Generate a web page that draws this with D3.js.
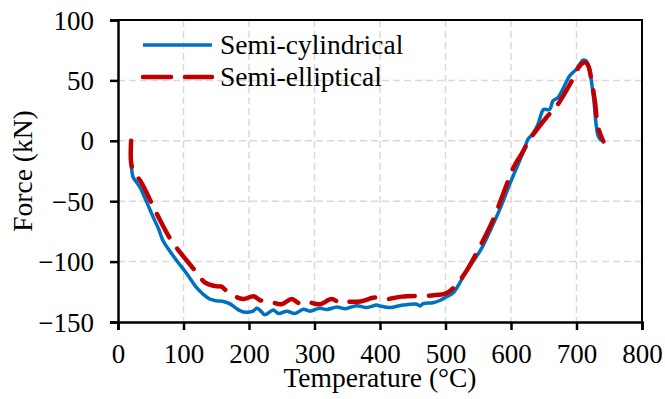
<!DOCTYPE html>
<html>
<head>
<meta charset="utf-8">
<script src="https://cdn.jsdelivr.net/npm/d3@7"></script>
<style>
body { margin: 0; background: #fff; }
text { font-family: "Liberation Serif", "Times New Roman", serif; fill: #000; }
</style>
</head>
<body>
<svg width="665" height="399"></svg>
<script>
// values
var seriesNames = ['Semi-cylindrical', 'Semi-elliptical'];
var xTicks = [0, 100, 200, 300, 400, 500, 600, 700, 800];
var yTicks = [-150, -100, -50, 0, 50, 100];

var cylTemp = [20, 23, 28, 34, 44, 54, 62, 69, 80, 90, 105, 120, 130, 140, 150, 161, 171, 180, 186, 196, 206, 212, 218, 224, 231, 237, 245, 258, 270, 283, 293, 308, 319, 334, 347, 364, 380, 395, 400, 415, 435, 456, 461, 466, 481, 492, 502, 512, 522, 532, 553, 568, 583, 598, 611, 621, 626, 632, 640, 647, 650, 659, 664, 672, 690, 700, 710, 715, 720, 726, 733, 738];
var cylForce = [-17, -30, -34, -39, -51, -63.5, -73, -83, -92, -99.5, -110, -121.5, -127, -131, -132.5, -133, -135, -138.5, -140.5, -142, -141, -138.6, -141, -144, -142, -140, -143, -141, -143, -139.5, -141, -138.6, -139.7, -137.5, -139, -136.5, -138, -136, -136.7, -138, -136, -135.3, -136.7, -134.8, -134, -132, -129, -125.7, -117.4, -107.7, -91, -74.6, -56.6, -36, -19.3, -6, 1.4, 5, 12, 23.5, 26, 26, 33, 36, 54, 59.4, 66.8, 66, 58, 36, 4, 0];

var ellTemp = [20, 20, 24, 34, 46, 57, 77, 90, 118, 133, 146, 152, 158, 163, 171, 191, 207, 217, 231, 250, 265, 278, 288, 308, 326, 339, 349, 370, 392, 410, 433, 479, 502, 517, 532, 553, 573, 588, 604, 616, 629, 654, 670, 693, 705, 713, 718, 723, 728, 733, 741];
var ellForce = [0, -18, -26, -33, -45.6, -58, -78.7, -89, -107.7, -117.4, -120, -120.5, -120.7, -123, -126.5, -131, -128.7, -132, -133, -135.3, -131, -134.8, -133.4, -135.3, -131, -134, -133.4, -133, -129.8, -131, -129, -128, -126, -118.8, -107.7, -87, -65, -44, -22, -11, 1.4, 19.3, 29, 49.7, 62, 65, 62, 49.7, 33, 11, -0.5];

var colors = ['#0070C0', '#C00000'];

var svg = d3.select('svg');
var plotL = 118, plotR = 642, plotT = 20, plotB = 322;

var x = d3.scaleLinear().domain([0, 800]).range([plotL, plotR]);
var y = d3.scaleLinear().domain([-150, 100]).range([plotB, plotT]);

// gridlines
svg.selectAll('.gx')
    .data(xTicks.filter(d => d > 0 && d < 800))
    .enter().append('line')
    .attr('x1', d => x(d)).attr('x2', d => x(d))
    .attr('y1', plotT).attr('y2', plotB)
    .attr('stroke', '#d9d9d9').attr('stroke-width', 1.5)
    .attr('stroke-dasharray', '7,4');

svg.selectAll('.gy')
    .data(yTicks.filter(d => d > -150 && d < 100))
    .enter().append('line')
    .attr('x1', plotL).attr('x2', plotR)
    .attr('y1', d => y(d)).attr('y2', d => y(d))
    .attr('stroke', '#d9d9d9').attr('stroke-width', 1.5)
    .attr('stroke-dasharray', '7,4');

// top and right border
svg.append('path')
    .attr('d', 'M' + plotL + ',' + plotT + 'H' + plotR + 'V' + plotB)
    .attr('fill', 'none').attr('stroke', '#000').attr('stroke-width', 2);

// axes
var xAxis = svg.append('g')
    .attr('transform', 'translate(0,' + plotB + ')')
    .call(d3.axisBottom(x).tickValues(xTicks).tickSizeOuter(0).tickSize(8).tickPadding(14));
var yAxis = svg.append('g')
    .attr('transform', 'translate(' + plotL + ',0)')
    .call(d3.axisLeft(y).tickValues(yTicks).tickSizeOuter(0).tickSize(8).tickPadding(16));

[xAxis, yAxis].forEach(a => {
    a.select('.domain').attr('stroke', '#000').attr('stroke-width', 2.5);
    a.selectAll('.tick line').attr('stroke', '#000').attr('stroke-width', 2.5);
    a.selectAll('.tick text')
        .style('font-family', '"Liberation Serif", serif')
        .style('font-size', '27px').attr('fill', '#000');
});
yAxis.selectAll('.tick text').attr('dy', '0.34em');
xAxis.selectAll('.tick text').attr('dy', '0.72em');

// axis titles
svg.append('text')
    .attr('x', (plotL + plotR) / 2).attr('y', 387)
    .attr('text-anchor', 'middle')
    .style('font-size', '27.5px')
    .text('Temperature (°C)');

svg.append('text')
    .attr('transform', 'translate(32,' + ((plotT + plotB) / 2) + ') rotate(-90)')
    .attr('text-anchor', 'middle')
    .style('font-size', '27.5px')
    .text('Force (kN)');

// series
var line = d3.line()
    .x(d => x(d[0]))
    .y(d => y(d[1]))
    .curve(d3.curveCatmullRom.alpha(0.5));

svg.append('path')
    .datum(d3.zip(cylTemp, cylForce))
    .attr('d', line)
    .attr('fill', 'none')
    .attr('stroke', colors[0])
    .attr('stroke-width', 3.5)
    .attr('stroke-linejoin', 'round');

svg.append('path')
    .datum(d3.zip(ellTemp, ellForce))
    .attr('d', line)
    .attr('fill', 'none')
    .attr('stroke', colors[1])
    .attr('stroke-width', 4.5)
    .attr('stroke-linecap', 'round')
    .attr('stroke-dasharray', '26,14');

// legend
var legend = svg.append('g');
seriesNames.forEach((name, i) => {
    var ly = 45 + i * 32;
    legend.append('line')
        .attr('x1', 143).attr('x2', 212)
        .attr('y1', ly).attr('y2', ly)
        .attr('stroke', colors[i])
        .attr('stroke-width', i ? 4.5 : 3.5)
        .attr('stroke-dasharray', i ? '28,14' : null)
        .attr('stroke-linecap', i ? 'round' : 'butt');
    legend.append('text')
        .attr('x', 220).attr('y', ly + 8.5)
        .style('font-size', '27.5px')
        .text(name);
});
</script>
</body>
</html>
